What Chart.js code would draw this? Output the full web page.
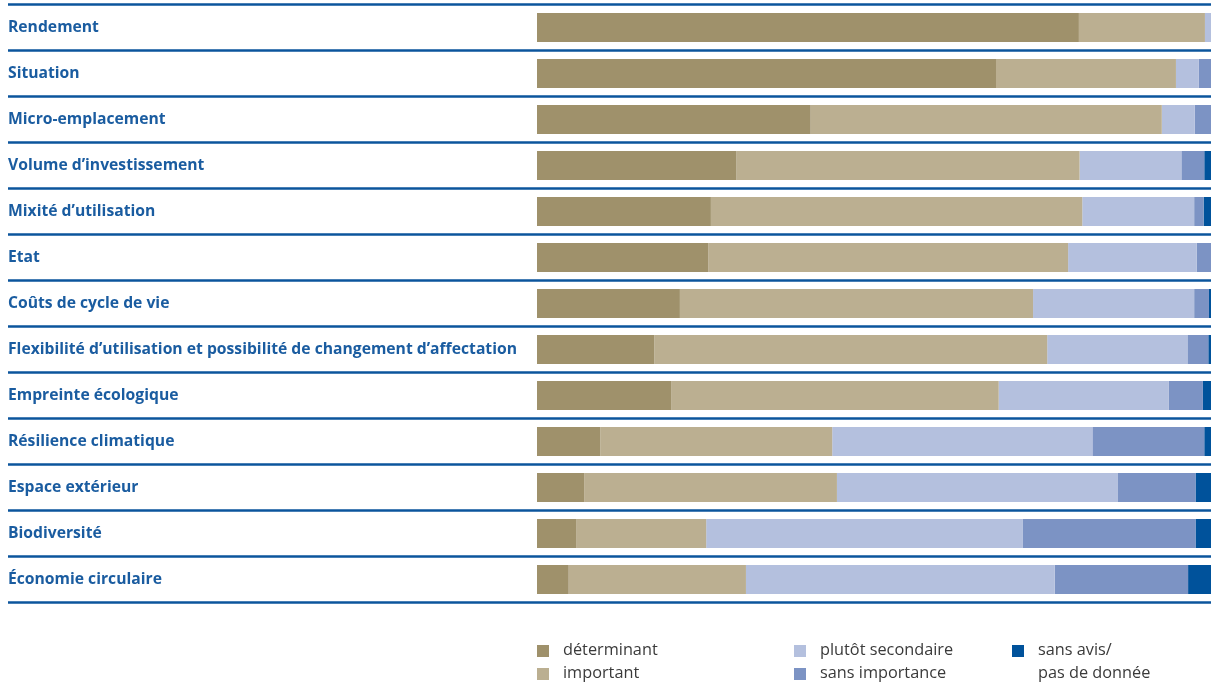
<!DOCTYPE html>
<html>
<head>
<meta charset="utf-8">
<script src="https://cdn.jsdelivr.net/npm/chart.js@4/dist/chart.umd.min.js"></script>
<style>
  html, body { margin: 0; padding: 0; background: #fff; }
  #wrap { position: relative; width: 1211px; height: 683px; }
  #legend { position: absolute; left: 0; top: 0; width: 1211px; height: 683px; pointer-events: none;
            font-family: "Open Sans", sans-serif; font-size: 16.3px; color: #3a3a3a; }
  .item { position: absolute; display: flex; align-items: flex-start; }
  .box { width: 12px; height: 12px; margin-top: 4px; margin-right: 14px; flex: none; }
  .txt { white-space: pre-line; line-height: 23px; margin-top: -3px; }
</style>
</head>
<body>
<div id="wrap">
  <canvas id="myChart" width="1211" height="683"></canvas>
  <div id="legend"></div>
</div>
<script>
var ctx = document.getElementById('myChart');

const categories = [
    'Rendement',
    'Situation',
    'Micro-emplacement',
    'Volume d\u2019investissement',
    'Mixité d\u2019utilisation',
    'Etat',
    'Coûts de cycle de vie',
    'Flexibilité d\u2019utilisation et possibilité de changement d\u2019affectation',
    'Empreinte écologique',
    'Résilience climatique',
    'Espace extérieur',
    'Biodiversité',
    'Économie circulaire'
];

// shares in %
const determinant = [80.4, 68.1, 40.6, 29.6, 25.8, 25.4, 21.2, 17.4, 19.9, 9.4, 7.0, 5.8, 4.7];
const important = [18.7, 26.7, 52.1, 50.9, 55.1, 53.4, 52.4, 58.3, 48.6, 34.4, 37.5, 19.3, 26.3];
const plutotSecondaire = [0.9, 3.4, 4.9, 15.1, 16.6, 19.1, 23.9, 20.8, 25.2, 38.6, 41.7, 47.0, 45.8];
const sansImportance = [0, 1.8, 2.4, 3.4, 1.4, 2.1, 2.2, 3.1, 5.1, 16.6, 11.5, 25.6, 19.8];
const sansAvis = [0, 0, 0, 1.0, 1.1, 0, 0.3, 0.4, 1.2, 1.0, 2.3, 2.3, 3.4];

const seriesLabels = ['déterminant', 'important', 'plutôt secondaire', 'sans importance', 'sans avis/\npas de donnée'];
const seriesColors = ['#9f916b', '#bbaf91', '#b4c0de', '#7c93c4', '#00529b'];

const lineColor = '#0b559c';
const labelColor = '#1a5ca0';

var allData = [determinant, important, plutotSecondaire, sansImportance, sansAvis];
var datasets = allData.map(function (d, i) {
    return {
        label: seriesLabels[i],
        data: d,
        backgroundColor: seriesColors[i],
        borderWidth: 0,
        barPercentage: 0.63,
        categoryPercentage: 1
    };
});

// blue rules between the rows, across the whole width
const rowLines = {
    id: 'rowLines',
    afterDraw(chart) {
        var y = chart.scales.y;
        var c = chart.ctx;
        var n = categories.length;
        var step = (y.bottom - y.top) / n;
        c.save();
        c.strokeStyle = lineColor;
        c.lineWidth = 2.5;
        for (var i = 0; i <= n; i++) {
            var py = i < n ? y.getPixelForValue(i) - step / 2 : y.getPixelForValue(n - 1) + step / 2;
            c.beginPath();
            c.moveTo(8, py);
            c.lineTo(chart.width, py);
            c.stroke();
        }
        c.restore();
    }
};

var myChart = new Chart(ctx, {
    type: 'bar',
    data: {
        labels: categories,
        datasets: datasets
    },
    options: {
        indexAxis: 'y',
        responsive: false,
        animation: false,
        layout: { padding: { left: 8, right: 0, top: 4.5, bottom: 80.5 } },
        plugins: {
            legend: { display: false },
            tooltip: { enabled: false }
        },
        scales: {
            x: {
                stacked: true,
                min: 0,
                max: 100,
                display: false
            },
            y: {
                stacked: true,
                grid: { display: false },
                border: { display: false },
                ticks: {
                    crossAlign: 'far',
                    color: labelColor,
                    padding: 0,
                    font: { family: 'Open Sans', size: 15.7, weight: 'bold' }
                },
                afterFit(scale) {
                    scale.width = 529;
                    scale.paddingTop = 0;
                    scale.paddingBottom = 0;
                }
            }
        }
    },
    plugins: [rowLines]
});

// legend built from the datasets
var legendX = [537, 794, 1012];
var legendY = [641, 664];
var legend = document.getElementById('legend');
datasets.forEach(function (ds, i) {
    var item = document.createElement('div');
    item.className = 'item';
    item.style.left = legendX[Math.floor(i / 2)] + 'px';
    item.style.top = legendY[i % 2] + 'px';
    item.innerHTML = '<span class="box" style="background:' + ds.backgroundColor + '"></span><span class="txt"></span>';
    item.querySelector('.txt').textContent = ds.label;
    legend.appendChild(item);
});
</script>
</body>
</html>
